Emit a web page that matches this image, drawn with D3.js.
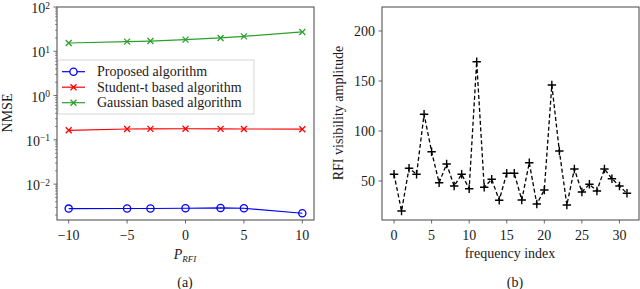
<!DOCTYPE html>
<html>
<head>
<meta charset="utf-8">
<script src="https://cdn.jsdelivr.net/npm/d3@7"></script>
<style>
  body { margin: 0; background: #fff; }
  text { font-family: "Liberation Serif", "DejaVu Serif", serif; fill: #1a1a1a; }
</style>
</head>
<body>
<svg id="chart" width="640" height="289"></svg>
<script>
// --- données, panneau (a)
const pRfi = [-10, -5, -3, 0, 3, 5, 10];
const proposed = [0.0028, 0.00282, 0.00282, 0.00285, 0.0029, 0.00285, 0.0022];
const studentT = [0.164, 0.176, 0.177, 0.178, 0.177, 0.176, 0.174];
const gaussian = [15.4, 16.5, 17.0, 18.3, 20.0, 21.7, 27.3];
const seriesNames = ["Proposed algorithm", "Student-t based algorithm", "Gaussian based algorithm"];
const xTicksA = [-10, -5, 0, 5, 10];
const yDecadesA = [-2, -1, 0, 1, 2];

// --- données, panneau (b)
const freqIndex = d3.range(32);
const rfiAmp = [56.7, 20, 62.7, 56.7, 116.7, 79.3, 48.3, 67, 45, 56.7, 42.3, 169.3,
                43.7, 51.7, 30.7, 57.7, 57.7, 31, 68.3, 27, 41, 146, 80, 26,
                62, 39, 46.7, 40, 62, 52.3, 45, 37.7];
const xTicksB = [0, 5, 10, 15, 20, 25, 30];
const yTicksB = [50, 100, 150, 200];

const svg = d3.select("#chart");
const frameColor = "#444";
const fs = 14;

// 1 - Panneau (a) : échelle log
const xA = d3.scaleLinear().domain([-11, 11]).range([57, 314]);
const yA = d3.scaleLog().domain([Math.pow(10, -2.81), 100]).range([220, 7]);

const gA = svg.append("g");

// graduations mineures
const minorA = [];
for (let e = -3; e < 2; e++) {
  for (let m = 2; m <= 9; m++) {
    const v = m * Math.pow(10, e);
    if (v >= yA.domain()[0] && v <= 100) minorA.push(v);
  }
}
gA.selectAll("line.minor").data(minorA).enter().append("line")
  .attr("x1", 57).attr("x2", 55)
  .attr("y1", d => yA(d)).attr("y2", d => yA(d))
  .attr("stroke", frameColor).attr("stroke-width", 0.6);

gA.selectAll("line.major").data(yDecadesA).enter().append("line")
  .attr("x1", 57).attr("x2", 53.5)
  .attr("y1", d => yA(Math.pow(10, d))).attr("y2", d => yA(Math.pow(10, d)))
  .attr("stroke", frameColor).attr("stroke-width", 0.8);

const yLab = gA.selectAll("text.ylab").data(yDecadesA).enter().append("text")
  .attr("x", 50).attr("y", d => yA(Math.pow(10, d)) + 6)
  .attr("text-anchor", "end").style("font-size", fs + "px");
yLab.append("tspan").text("10");
yLab.append("tspan").attr("dy", -4.5).style("font-size", "9.5px")
  .text(d => (d < 0 ? "\u2212" : "") + Math.abs(d));

gA.selectAll("line.xt").data(xTicksA).enter().append("line")
  .attr("x1", d => xA(d)).attr("x2", d => xA(d))
  .attr("y1", 220).attr("y2", 223.5)
  .attr("stroke", frameColor).attr("stroke-width", 0.8);
gA.selectAll("text.xl").data(xTicksA).enter().append("text")
  .attr("x", d => xA(d)).attr("y", 240)
  .attr("text-anchor", "middle").style("font-size", fs + "px")
  .text(d => (d < 0 ? "\u2212" : "") + Math.abs(d));

// courbes
const lineA = vals => d3.line().x((d, i) => xA(pRfi[i])).y(d => yA(d))(vals);
const drawX = (g, vals, color) => {
  vals.forEach((v, i) => {
    const cx = xA(pRfi[i]), cy = yA(v), s = 3;
    g.append("path")
      .attr("d", `M${cx - s},${cy - s}L${cx + s},${cy + s}M${cx - s},${cy + s}L${cx + s},${cy - s}`)
      .attr("stroke", color).attr("stroke-width", 1.3).attr("fill", "none");
  });
};

gA.append("path").attr("d", lineA(gaussian)).attr("fill", "none")
  .attr("stroke", "#2ca02c").attr("stroke-width", 1.2);
drawX(gA, gaussian, "#2ca02c");
gA.append("path").attr("d", lineA(studentT)).attr("fill", "none")
  .attr("stroke", "#ff0000").attr("stroke-width", 1.2);
drawX(gA, studentT, "#ff0000");
gA.append("path").attr("d", lineA(proposed)).attr("fill", "none")
  .attr("stroke", "#0000ff").attr("stroke-width", 1.2);
gA.selectAll("circle").data(proposed).enter().append("circle")
  .attr("cx", (d, i) => xA(pRfi[i])).attr("cy", d => yA(d)).attr("r", 3.6)
  .attr("fill", "none").attr("stroke", "#0000ff").attr("stroke-width", 1.3);

// légende
const leg = gA.append("g");
leg.append("rect").attr("x", 58).attr("y", 60).attr("width", 196).attr("height", 54)
  .attr("fill", "#fff").attr("fill-opacity", 0.8).attr("stroke", "#ccc").attr("stroke-width", 0.8);
const legColors = ["#0000ff", "#ff0000", "#2ca02c"];
seriesNames.forEach((name, i) => {
  const ly = 71.7 + i * 15.5;
  leg.append("line").attr("x1", 62).attr("x2", 85).attr("y1", ly).attr("y2", ly)
    .attr("stroke", legColors[i]).attr("stroke-width", 1.2);
  if (i === 0) {
    leg.append("circle").attr("cx", 73.5).attr("cy", ly).attr("r", 3.6)
      .attr("fill", "#fff").attr("stroke", legColors[i]).attr("stroke-width", 1.3);
  } else {
    const s = 3;
    leg.append("path")
      .attr("d", `M${73.5 - s},${ly - s}L${73.5 + s},${ly + s}M${73.5 - s},${ly + s}L${73.5 + s},${ly - s}`)
      .attr("stroke", legColors[i]).attr("stroke-width", 1.3);
  }
  leg.append("text").attr("x", 97).attr("y", ly + 4.5).style("font-size", fs + "px").text(name);
});

gA.append("rect").attr("x", 57).attr("y", 7).attr("width", 257).attr("height", 213)
  .attr("fill", "none").attr("stroke", frameColor).attr("stroke-width", 1);

gA.append("text").attr("transform", "translate(12,113) rotate(-90)")
  .attr("text-anchor", "middle").style("font-size", fs + "px").text("NMSE");

const pl = gA.append("text").attr("x", 185).attr("y", 259).attr("text-anchor", "middle")
  .style("font-size", fs + "px").style("font-style", "italic");
pl.append("tspan").text("P");
pl.append("tspan").attr("dy", 3).style("font-size", "9px").text("RFI");

gA.append("text").attr("x", 185).attr("y", 287).attr("text-anchor", "middle")
  .style("font-size", fs + "px").text("(a)");

// 2 - Panneau (b)
const xB = d3.scaleLinear().domain([-1.6, 32.6]).range([382, 639]);
const yB = d3.scaleLinear().domain([11, 224]).range([220, 7]);
const gB = svg.append("g");

gB.selectAll("line.yt").data(yTicksB).enter().append("line")
  .attr("x1", 382).attr("x2", 378.5).attr("y1", d => yB(d)).attr("y2", d => yB(d))
  .attr("stroke", frameColor).attr("stroke-width", 0.8);
gB.selectAll("text.yl").data(yTicksB).enter().append("text")
  .attr("x", 375).attr("y", d => yB(d) + 4.5).attr("text-anchor", "end")
  .style("font-size", fs + "px").text(d => d);
gB.selectAll("line.xt").data(xTicksB).enter().append("line")
  .attr("x1", d => xB(d)).attr("x2", d => xB(d)).attr("y1", 220).attr("y2", 223.5)
  .attr("stroke", frameColor).attr("stroke-width", 0.8);
gB.selectAll("text.xl").data(xTicksB).enter().append("text")
  .attr("x", d => xB(d)).attr("y", 240).attr("text-anchor", "middle")
  .style("font-size", fs + "px").text(d => d);

gB.append("path")
  .attr("d", d3.line().x((d, i) => xB(freqIndex[i])).y(d => yB(d))(rfiAmp))
  .attr("fill", "none").attr("stroke", "#000").attr("stroke-width", 1.3)
  .attr("stroke-dasharray", "4,2.5");
gB.selectAll("path.plus").data(rfiAmp).enter().append("path")
  .attr("d", (d, i) => {
    const cx = xB(freqIndex[i]), cy = yB(d), s = 4.2;
    return `M${cx - s},${cy}L${cx + s},${cy}M${cx},${cy - s}L${cx},${cy + s}`;
  })
  .attr("stroke", "#000").attr("stroke-width", 1.4);

gB.append("rect").attr("x", 382).attr("y", 7).attr("width", 257).attr("height", 213)
  .attr("fill", "none").attr("stroke", frameColor).attr("stroke-width", 1);

gB.append("text").attr("transform", "translate(343,113) rotate(-90)")
  .attr("text-anchor", "middle").style("font-size", fs + "px").text("RFI visibility amplitude");
gB.append("text").attr("x", 510).attr("y", 258).attr("text-anchor", "middle")
  .style("font-size", fs + "px").text("frequency index");
gB.append("text").attr("x", 515).attr("y", 287).attr("text-anchor", "middle")
  .style("font-size", fs + "px").text("(b)");
</script>
</body>
</html>
